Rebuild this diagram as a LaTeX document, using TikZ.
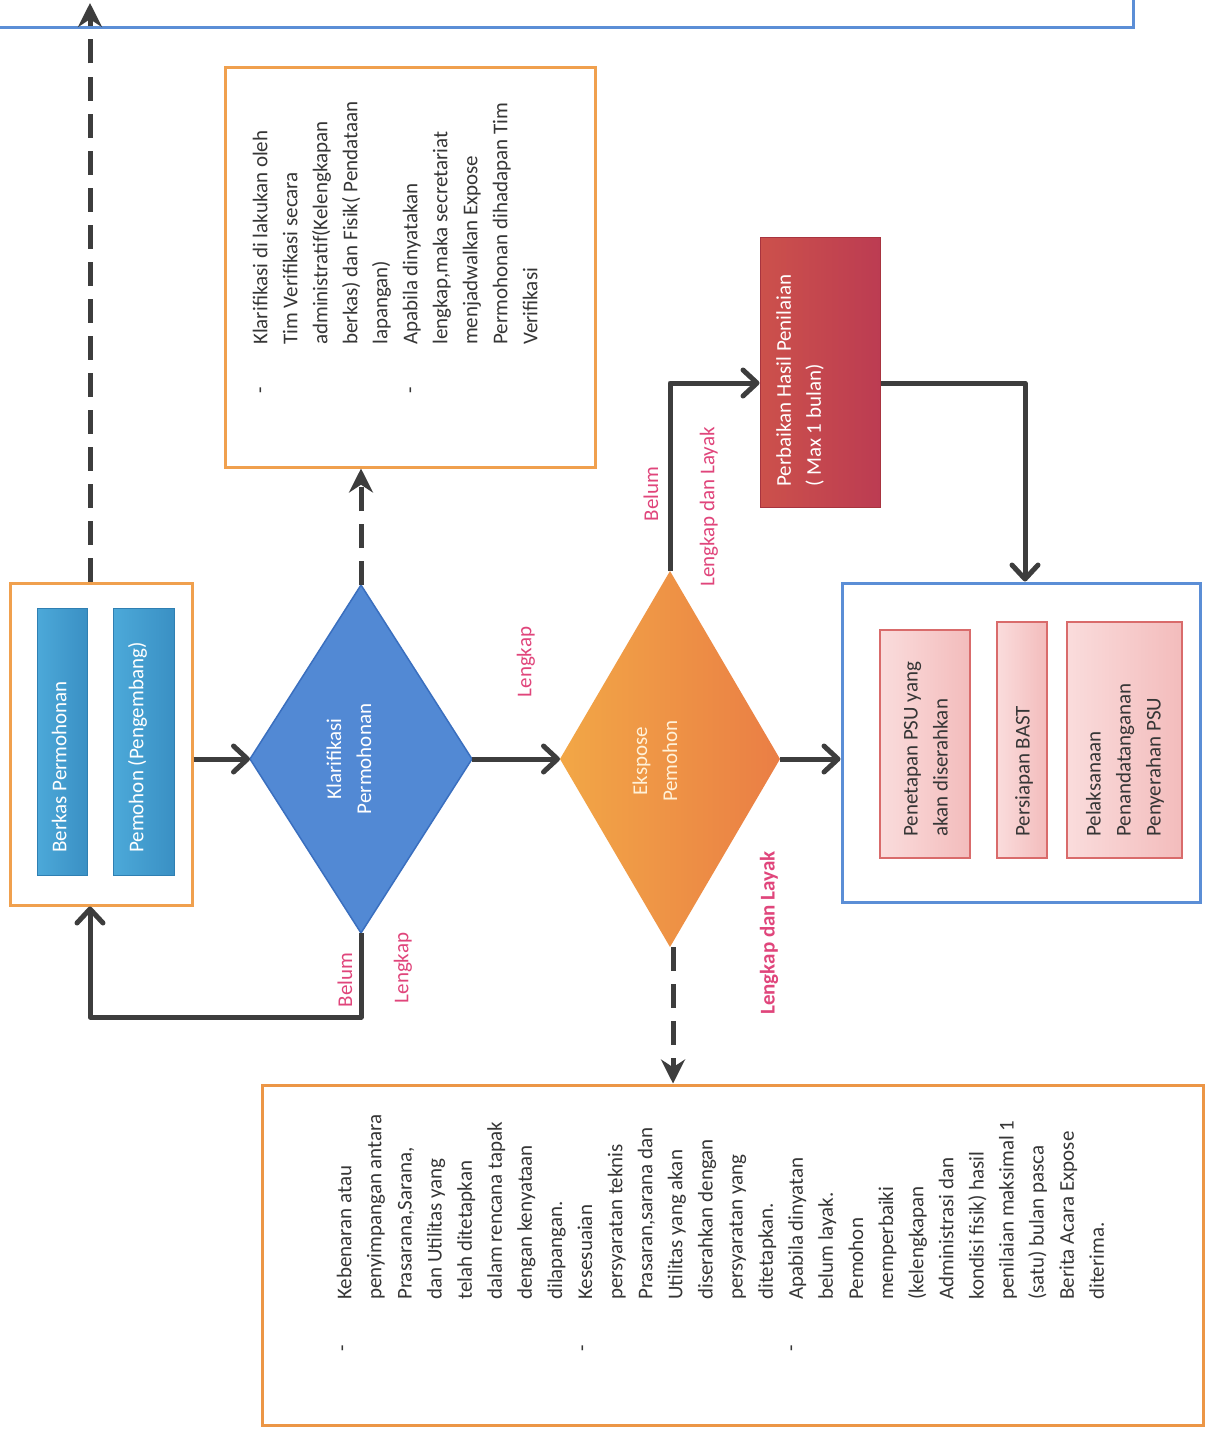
\documentclass[tikz,border=0pt]{standalone}
\usepackage{fontspec}
\setmainfont{Carlito}
\usetikzlibrary{arrows.meta,shapes.geometric,calc}
\definecolor{connc}{HTML}{3D3D3D}
\definecolor{orangec}{HTML}{F0A04E}
\definecolor{orangec2}{HTML}{EC9646}
\definecolor{bluec}{HTML}{5B8ED6}
\definecolor{pinkc}{HTML}{E0457B}
\definecolor{txtc}{HTML}{363636}
\definecolor{barc}{HTML}{2F7FB2}
\definecolor{barl}{HTML}{4CA9D9}
\definecolor{barr}{HTML}{3A90C4}
\definecolor{pkd}{HTML}{D96B6B}
\definecolor{pkl}{HTML}{FADCDC}
\definecolor{pkr}{HTML}{F3BCBC}
\definecolor{dia1}{HTML}{5289D4}
\definecolor{dia1d}{HTML}{3A6FBF}
\definecolor{d2l}{HTML}{F2A746}
\definecolor{d2r}{HTML}{EA7E45}
\definecolor{creamc}{HTML}{FFF1D8}
\definecolor{redl}{HTML}{CC514B}
\definecolor{redr}{HTML}{BC3C52}
\definecolor{redd}{HTML}{A8343F}
\begin{document}
\begin{tikzpicture}[x=1pt,y=-1pt,
  conn/.style={draw=connc,line width=5pt,line join=round,-{Straight Barb[length=14pt,width=26pt,round]}},
  dconn/.style={draw=connc,line width=5pt,dash pattern=on 24pt off 13pt,-{Stealth[length=24pt,width=24pt]}},
  ln/.style={text=txtc,font=\fontsize{21}{30}\selectfont,rotate=90,anchor=mid west,inner sep=0},
  bul/.style={text=txtc,font=\fontsize{21}{30}\selectfont,rotate=90,anchor=mid,inner sep=0},
  lbl/.style={text=pinkc,font=\fontsize{21}{30}\selectfont,rotate=90,inner sep=0},
  wtxt/.style={text=white,font=\fontsize{21}{30}\selectfont,rotate=90,inner sep=0},
  orangebox/.style={draw=orangec,line width=3pt,inner sep=0,fill=white},
  bluebox/.style={draw=bluec,line width=3pt,inner sep=0,fill=white},
  barbox/.style={draw=barc,left color=barl,right color=barr,line width=1pt,inner sep=0},
  pinkbox/.style={draw=pkd,left color=pkl,right color=pkr,line width=1.6pt,inner sep=0},
]
\useasboundingbox (0,0) rectangle (1207,1429);
\fill[white] (0,0) rectangle (1207,1429);

% top (partial) blue box
\draw[bluec,line width=3pt] (0,28) -| (1133,0);
\coordinate (topT) at (90,3);

% left box with two bars
\node[orangebox,minimum width=182pt,minimum height=322pt] (lbox) at (101,744) {};
\node[barbox,minimum width=50pt,minimum height=267pt] (bar1) at (62,741.5) {};
\node[barbox,minimum width=61pt,minimum height=267pt] (bar2) at (143.5,741.5) {};
\node[wtxt,anchor=mid west] (tb1) at (64,853) {Berkas Permohonan};
\node[wtxt,anchor=mid west] (tb2) at (141,853) {Pemohon (Pengembang)};

% diamond 1
\node[diamond,draw=dia1d,fill=dia1,line width=1.5pt,inner sep=0,outer sep=0,minimum width=222pt,minimum height=348pt] (d1) at (361,759) {};
\node[wtxt,align=center] (td1) at (349,759) {Klarifikasi\\Permohonan};

% diamond 2
\node[diamond,left color=d2l,right color=d2r,inner sep=0,outer sep=0,minimum width=220pt,minimum height=376pt] (d2) at (670,759) {};
\node[wtxt,align=center,text=creamc] (td2) at (655,761) {Ekspose\\Pemohon};

% top orange box
\node[orangebox,minimum width=370pt,minimum height=399pt] (box2) at (410,267.5) {};
\foreach \t [count=\i] in {Klarifikasi di lakukan oleh,Tim Verifikasi secara,administratif(Kelengkapan,berkas) dan Fisik( Pendataan,lapangan),Apabila dinyatakan,{lengkap,maka secretariat},menjadwalkan Expose,Permohonan dihadapan Tim,Verifikasi}
  \node[ln] (tl\i) at ({265+30*(\i-1)},345) {\t};
\node[bul] (tbu1) at (264,390) {-};
\node[bul] (tbu2) at (414,390) {-};

% red box
\node[left color=redl,right color=redr,draw=redd,line width=1pt,inner sep=0,minimum width=120pt,minimum height=270pt] (red) at (820,372) {};
\node[wtxt,align=left,anchor=west] (tred) at (800,487) {Perbaikan Hasil Penilaian\\( Max 1 bulan)};

% right blue box
\node[bluebox,minimum width=358pt,minimum height=319pt] (box3) at (1021,742.5) {};
\node[pinkbox,minimum width=90pt,minimum height=228pt] (p1) at (925,744) {};
\node[pinkbox,minimum width=50pt,minimum height=236pt] (p2) at (1022,740) {};
\node[pinkbox,minimum width=115pt,minimum height=236pt] (p3) at (1124.5,740) {};
\node[wtxt,text=txtc,align=left,anchor=west] (tp1) at (926,837) {Penetapan PSU yang\\akan diserahkan};
\node[wtxt,text=txtc,align=left,anchor=west] (tp2) at (1024,837) {Persiapan BAST};
\node[wtxt,text=txtc,align=left,anchor=west] (tp3) at (1125,837) {Pelaksanaan\\Penandatanganan\\Penyerahan PSU};

% bottom orange box
\node[orangebox,draw=orangec2,minimum width=941pt,minimum height=340pt] (box4) at (732.5,1255) {};
\foreach \t [count=\i] in {Kebenaran atau,penyimpangan antara,{Prasarana,Sarana,},dan Utilitas yang,telah ditetapkan,dalam rencana tapak,dengan kenyataan,dilapangan.,Kesesuaian,persyaratan teknis,{Prasaran,sarana dan},Utilitas yang akan,diserahkan dengan,persyaratan yang,ditetapkan.,Apabila dinyatan,belum layak.,Pemohon,memperbaiki,{(kelengkapan},Administrasi dan,kondisi fisik) hasil,penilaian maksimal 1,{(satu) bulan pasca},Berita Acara Expose,diterima.}
  \node[ln] (bl\i) at ({349+30.1*(\i-1)},1300) {\t};
\node[bul] (bbu1) at (346,1348) {-};
\node[bul] (bbu2) at (586,1348) {-};
\node[bul] (bbu3) at (795,1348) {-};

% connectors
\draw[dconn] ([xshift=-11pt]lbox.north) -- (topT);
\draw[conn] (lbox.east |- d1.west) -- (d1.west);
\draw[conn] (d1.south) -- ++(0,84) -| ([xshift=-11pt]lbox.south);
\draw[dconn] (d1.north) -- (d1.north |- box2.south);
\draw[conn] (d1.east) -- (d2.west);
\draw[conn] (d2.east) -- (d2.east -| box3.west);
\draw[conn] (d2.north) |- ([yshift=-11pt]red.west);
\draw[conn] ([yshift=-11pt]red.east) -| ([xshift=4pt]box3.north);
\draw[dconn] ([xshift=3pt]d2.south) -- ([xshift=3pt]d2.south |- box4.north);

% labels
\node[lbl] (lb1) at (345,980) {Belum};
\node[lbl] (lb2) at (403,968) {Lengkap};
\node[lbl] (lb3) at (526,662) {Lengkap};
\node[lbl] (lb4) at (651,494) {Belum};
\node[lbl] (lb5) at (709,507) {Lengkap dan Layak};
\node[lbl,font=\bfseries\fontsize{21}{30}\selectfont] (lb6) at (769,933) {Lengkap dan Layak};
\end{tikzpicture}
\end{document}
